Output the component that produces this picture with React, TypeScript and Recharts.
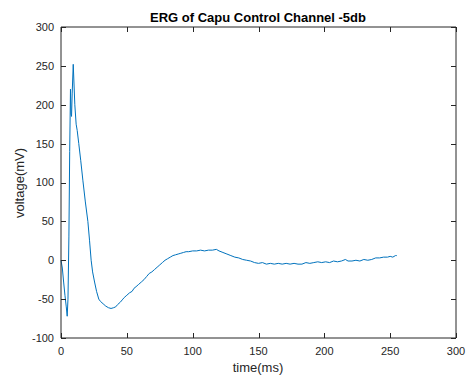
import React from "react";
import { LineChart, XAxis, YAxis, Line } from "recharts";

const timeMs = [
  0, 1, 2, 3, 4, 4.7, 5.3, 6, 6.6, 7.2, 7.6, 8, 8.5, 9.3, 10.5, 11.5, 12.3,
  13.5, 15, 16.6, 18.5, 20.4, 21.7, 22.9, 24, 25.5, 27, 28.7, 30, 32, 34, 36,
  38, 40, 41.5, 43, 45, 46.5, 48, 50, 52, 54, 55.5, 57, 59, 61, 63, 65, 67,
  69, 71, 73, 75, 77, 79, 81, 83, 85, 87, 89, 91, 93, 95, 97, 100, 103, 106,
  109, 112, 115, 118, 120, 123, 126, 129, 132, 135, 138, 141, 144, 147, 150,
  153, 156, 159, 162, 165, 168, 171, 174, 177, 180, 183, 186, 189, 192, 195,
  198, 201, 204, 207, 210, 213, 216, 218, 221, 224, 227, 230, 233, 236, 239,
  242, 245, 248, 250, 252, 254, 255,
];

const voltage = [
  0, -10, -28, -45, -60, -72, -50, 30, 140, 220, 188, 185, 215, 252, 200, 175,
  167, 150, 128, 103, 75, 50, 25, 0, -15, -28, -40, -50, -53, -56, -59, -61,
  -62, -61, -60, -57, -54, -51, -48, -45, -42, -40, -36, -34, -31, -28, -25,
  -21, -17, -15, -12, -9, -6, -3, 0, 2, 4, 6, 7, 8, 9, 10, 11, 11, 12, 12, 13,
  12, 13, 13, 14, 12, 10, 8, 6, 4, 3, 1, 0, -1, -3, -4, -3, -5, -4, -5, -4, -5,
  -4, -5, -4, -5, -5, -3, -4, -3, -2, -3, -2, -3, -1, -2, -1, 1, -1, -1, 0, -1,
  1, 0, 1, 3, 3, 4, 4, 5, 4, 6, 6,
];

const xTicks = [0, 50, 100, 150, 200, 250, 300];
const yTicks = [-100, -50, 0, 50, 100, 150, 200, 250, 300];
const xDomain = [0, 300];
const yDomain = [-100, 300];

const data = timeMs.map((t, i) => ({ t, v: voltage[i] }));

const axisColor = "#262626";
const fontFamily = "Liberation Sans, Arial, sans-serif";

const W = 467;
const H = 376;
const M = { top: 27, right: 11, left: 0, bottom: 0 };
const X_MARGIN = 9;
const Y_MARGIN = 7;
const TICK = 5;

// label + inward tick marks (bottom and top) drawn together
const XTick = (props: any) => {
  const { x, y, payload } = props;
  const px = Math.round(Number(x)) + 0.5;
  const axisY = Number(y) - X_MARGIN;
  return (
    <g>
      <line x1={px} x2={px} y1={axisY} y2={axisY - TICK} stroke={axisColor} strokeWidth={1} shapeRendering="crispEdges" />
      <line x1={px} x2={px} y1={M.top} y2={M.top + TICK} stroke={axisColor} strokeWidth={1} shapeRendering="crispEdges" />
      <text x={x} y={y} dy="0.71em" textAnchor="middle" fontSize={11} fill={axisColor} fontFamily={fontFamily}>
        {payload.value}
      </text>
    </g>
  );
};

// label + inward tick marks (left and right)
const YTick = (props: any) => {
  const { x, y, payload } = props;
  const py = Math.round(Number(y)) + 0.5;
  const axisX = Number(x) + Y_MARGIN;
  const rightX = W - M.right;
  return (
    <g>
      <line x1={axisX} x2={axisX + TICK} y1={py} y2={py} stroke={axisColor} strokeWidth={1} shapeRendering="crispEdges" />
      <line x1={rightX} x2={rightX - TICK} y1={py} y2={py} stroke={axisColor} strokeWidth={1} shapeRendering="crispEdges" />
      <text x={x} y={y} dy="0.355em" textAnchor="end" fontSize={11} fill={axisColor} fontFamily={fontFamily}>
        {payload.value}
      </text>
    </g>
  );
};

const App = () => {
  return (
    <div style={{ position: "absolute", left: 0, top: 0, width: W, height: H, background: "#fff", fontFamily, color: axisColor }}>
      <LineChart width={W} height={H} data={data} margin={M}>
        <XAxis
          dataKey="t"
          type="number"
          domain={xDomain}
          ticks={xTicks}
          height={38}
          tickLine={false}
          tickSize={0}
          tickMargin={X_MARGIN}
          tick={<XTick />}
          stroke={axisColor}
          interval={0}
        />
        <YAxis
          type="number"
          domain={yDomain}
          ticks={yTicks}
          width={61}
          tickLine={false}
          tickSize={0}
          tickMargin={Y_MARGIN}
          tick={<YTick />}
          stroke={axisColor}
          interval={0}
        />
        <XAxis
          xAxisId="top"
          dataKey="t"
          orientation="top"
          mirror
          type="number"
          domain={xDomain}
          ticks={xTicks}
          height={4}
          tick={false}
          tickLine={false}
          stroke={axisColor}
        />
        <YAxis
          yAxisId="right"
          orientation="right"
          mirror
          type="number"
          domain={yDomain}
          ticks={yTicks}
          width={4}
          tick={false}
          tickLine={false}
          stroke={axisColor}
        />
        {/* invisible series so the box axes get drawn */}
        <Line xAxisId="top" yAxisId="right" dataKey="v" stroke="none" dot={false} activeDot={false} isAnimationActive={false} />
        <Line
          type="linear"
          dataKey="v"
          stroke="#0072BD"
          strokeWidth={1}
          dot={false}
          isAnimationActive={false}
        />
      </LineChart>
      <div style={{ position: "absolute", left: 258, top: 17, transform: "translate(-50%, -50%)", fontSize: 13, fontWeight: "bold", whiteSpace: "nowrap", color: "#000" }}>
        ERG of Capu Control Channel -5db
      </div>
      <div style={{ position: "absolute", left: 258, top: 367, transform: "translate(-50%, -50%)", fontSize: 13, whiteSpace: "nowrap" }}>
        time(ms)
      </div>
      <div style={{ position: "absolute", left: 19, top: 183, transform: "translate(-50%, -50%) rotate(-90deg)", fontSize: 13, whiteSpace: "nowrap" }}>
        voltage(mV)
      </div>
    </div>
  );
};

export default App;
